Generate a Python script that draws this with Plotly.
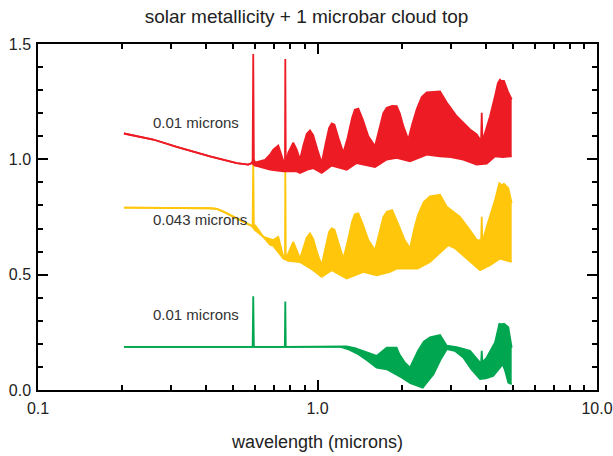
import math
import plotly.graph_objects as go

# ---------------- data ----------------
red_lower_wl = [0.203, 0.2585, 0.3135, 0.4124, 0.5139, 0.5654, 0.5815, 0.5975, 0.614, 0.676, 0.7545,
                0.8424, 0.8658, 0.92, 0.966, 1.035, 1.124, 1.272, 1.381, 1.606, 1.769, 1.920, 2.143,
                2.3, 2.459, 2.744, 3.0, 3.324, 3.712, 4.032, 4.317, 4.6, 4.952]
red_lower = [1.112, 1.086, 1.054, 1.013, 0.984, 0.977, 0.984, 0.972, 0.969, 0.955, 0.948,
             0.948, 0.941, 0.955, 0.962, 0.941, 0.973, 0.955, 0.984, 0.967, 0.999, 1.006, 0.991,
             1.005, 1.020, 1.013, 1.010, 0.999, 0.977, 0.981, 1.013, 1.010, 1.013]
red_upper_wl = [0.203, 0.2585, 0.3135, 0.4124, 0.5139, 0.5654, 0.5815, 0.586, 0.589, 0.592, 0.5975,
                0.614, 0.6491, 0.6761, 0.695, 0.724, 0.7545, 0.762, 0.765, 0.767, 0.770, 0.7861,
                0.8191, 0.8424, 0.8658, 0.89, 0.915, 0.94, 0.965, 1.0, 1.035, 1.07, 1.10, 1.124,
                1.15, 1.19, 1.237, 1.28, 1.33, 1.36, 1.40, 1.45, 1.52, 1.606, 1.66, 1.72, 1.769,
                1.85, 1.920, 1.97, 2.028, 2.113, 2.18, 2.264, 2.36, 2.459, 2.6, 2.744, 2.900, 3.148,
                3.513, 3.712, 3.815, 3.850, 3.869, 3.890, 3.943, 4.143, 4.317, 4.42, 4.498, 4.540,
                4.560, 4.580, 4.649, 4.815, 4.952]
red_upper = [1.112, 1.086, 1.054, 1.013, 0.984, 0.977, 0.984, 0.995, 1.457, 1.000, 0.986,
             0.990, 0.998, 1.020, 1.042, 1.060, 0.998, 0.977, 0.980, 1.435, 0.980, 1.029,
             1.072, 1.042, 0.999, 1.060, 1.110, 1.125, 1.105, 1.040, 0.984, 1.070, 1.135, 1.156,
             1.150, 1.090, 1.028, 1.090, 1.180, 1.215, 1.220, 1.175, 1.100, 1.057, 1.130, 1.200, 1.224,
             1.232, 1.231, 1.200, 1.144, 1.086, 1.150, 1.217, 1.270, 1.290, 1.292, 1.294, 1.246, 1.187,
             1.130, 1.108, 1.086, 1.090, 1.202, 1.095, 1.100, 1.187, 1.275, 1.330, 1.345, 1.340,
             1.246, 1.340, 1.340, 1.290, 1.260]

yel_lower_wl = [0.203, 0.30, 0.4124, 0.4369, 0.4603, 0.5139, 0.558, 0.5815, 0.5975, 0.640, 0.676,
                0.695, 0.7545, 0.7861, 0.8658, 0.966, 1.035, 1.124, 1.272, 1.458, 1.628, 1.817,
                1.920, 2.28, 2.526, 2.75, 2.938, 3.1, 3.324, 3.6, 3.815, 4.143, 4.498, 4.952]
yel_lower = [0.791, 0.790, 0.788, 0.785, 0.773, 0.744, 0.723, 0.711, 0.693, 0.664, 0.630,
             0.625, 0.570, 0.560, 0.555, 0.519, 0.490, 0.519, 0.483, 0.512, 0.497, 0.512,
             0.526, 0.526, 0.555, 0.595, 0.628, 0.615, 0.584, 0.545, 0.519, 0.541, 0.570, 0.555]
yel_upper_wl = [0.203, 0.30, 0.4124, 0.4369, 0.4603, 0.5139, 0.558, 0.5815, 0.586, 0.589, 0.592,
                0.5975, 0.640, 0.695, 0.724, 0.7545, 0.762, 0.765, 0.767, 0.770, 0.7861, 0.8191,
                0.8658, 0.89, 0.915, 0.94, 0.965, 1.0, 1.035, 1.07, 1.10, 1.124, 1.15, 1.19, 1.237,
                1.28, 1.33, 1.36, 1.40, 1.45, 1.52, 1.606, 1.66, 1.72, 1.769, 1.85, 1.96, 2.05,
                2.143, 2.22, 2.29, 2.4, 2.526, 2.744, 2.900, 3.235, 3.513, 3.712, 3.850, 3.869,
                3.890, 4.032, 4.317, 4.473, 4.540, 4.560, 4.580, 4.649, 4.815, 4.952]
yel_upper = [0.791, 0.790, 0.788, 0.785, 0.773, 0.744, 0.723, 0.711, 0.710, 1.020, 0.700,
             0.715, 0.664, 0.650, 0.664, 0.577, 0.570, 0.570, 0.990, 0.570, 0.592, 0.642,
             0.570, 0.615, 0.660, 0.679, 0.655, 0.590, 0.541, 0.620, 0.685, 0.701, 0.695, 0.635, 0.570,
             0.640, 0.730, 0.762, 0.766, 0.720, 0.650, 0.606, 0.680, 0.750, 0.773, 0.780, 0.708, 0.650,
             0.614, 0.700, 0.759, 0.815, 0.839, 0.846, 0.795, 0.751, 0.693, 0.650, 0.650, 0.751,
             0.640, 0.708, 0.824, 0.897, 0.890, 0.810, 0.890, 0.894, 0.875, 0.810]

grn_lower_wl = [0.203, 1.21, 1.3, 1.4, 1.5, 1.628, 1.769, 1.92, 2.0, 2.15, 2.3, 2.38, 2.45, 2.6,
                2.75, 2.9, 3.1, 3.324, 3.55, 3.815, 4.0, 4.25, 4.45, 4.6, 4.7, 4.815, 4.952]
grn_lower = [0.187, 0.187, 0.175, 0.155, 0.130, 0.097, 0.090, 0.068, 0.054, 0.030, 0.017, 0.010,
             0.030, 0.068, 0.130, 0.177, 0.170, 0.141, 0.090, 0.047, 0.050, 0.061, 0.090, 0.112,
             0.080, 0.032, 0.025]
grn_upper_wl = [0.203, 0.586, 0.589, 0.592, 0.764, 0.767, 0.770, 1.21, 1.272, 1.36, 1.458, 1.628,
                1.769, 1.92, 1.96, 2.05, 2.143, 2.22, 2.29, 2.4, 2.526, 2.744, 2.9, 3.148, 3.513,
                3.815, 3.850, 3.869, 3.890, 4.032, 4.317, 4.473, 4.540, 4.560, 4.580, 4.649, 4.815,
                4.952]
grn_upper = [0.187, 0.187, 0.406, 0.187, 0.187, 0.384, 0.187, 0.187, 0.189, 0.182, 0.170, 0.148,
             0.184, 0.184, 0.156, 0.120, 0.097, 0.140, 0.170, 0.210, 0.228, 0.238, 0.192, 0.186, 0.170,
             0.119, 0.120, 0.170, 0.120, 0.141, 0.206, 0.287, 0.285, 0.200, 0.285, 0.287, 0.272,
             0.184]

labels = ["0.01 microns", "0.043 microns", "0.01 microns"]
label_wl = [0.253, 0.253, 0.253]
label_y = [1.159, 0.741, 0.327]

x_tickvals = [0.1, 1, 10]
x_ticktext = ["0.1", "1.0", "10.0"]
x_minor = [0.2, 0.3, 0.4, 0.5, 0.6, 0.7, 0.8, 0.9, 2, 3, 4, 5, 6, 7, 8, 9]
y_tickvals = [0.0, 0.5, 1.0, 1.5]
y_ticktext = ["0.0", "0.5", "1.0", "1.5"]
y_minor = [0.1, 0.2, 0.3, 0.4, 0.6, 0.7, 0.8, 0.9, 1.1, 1.2, 1.3, 1.4]

RED, YEL, GRN = "#ED1C24", "#FFC60B", "#00A650"
FONT = "Liberation Sans, Arial, Helvetica, sans-serif"
TXT = "#222222"

fig = go.Figure()
for lw, lo, uw, up, col in [
    (grn_lower_wl, grn_lower, grn_upper_wl, grn_upper, GRN),
    (yel_lower_wl, yel_lower, yel_upper_wl, yel_upper, YEL),
    (red_lower_wl, red_lower, red_upper_wl, red_upper, RED),
]:
    fig.add_trace(go.Scatter(x=lw, y=lo, mode="lines", line=dict(color=col, width=1.8),
                             showlegend=False, hoverinfo="skip"))
    fig.add_trace(go.Scatter(x=uw, y=up, mode="lines", line=dict(color=col, width=1.8),
                             fill="tonexty", fillcolor=col, showlegend=False, hoverinfo="skip"))

# invisible trace so that the minor-tick overlay axes are drawn
fig.add_trace(go.Scatter(x=[1], y=[0.5], xaxis="x2", yaxis="y2", mode="markers",
                         marker=dict(opacity=0), showlegend=False, hoverinfo="skip"))

for t, xw, yv in zip(labels, label_wl, label_y):
    fig.add_annotation(x=math.log10(xw), y=yv, xref="x", yref="y", text=t, showarrow=False,
                       xanchor="left", yanchor="middle",
                       font=dict(family=FONT, size=15, color="#333333"))

common = dict(showline=True, linecolor="black", linewidth=1.5, mirror="ticks",
              ticks="inside", tickwidth=1.5, tickcolor="black",
              showgrid=False, zeroline=False, automargin=False,
              tickfont=dict(family=FONT, size=16, color=TXT))

fig.update_layout(
    width=613, height=456,
    margin=dict(l=38, r=16, t=44, b=66),
    paper_bgcolor="white", plot_bgcolor="white",
    title=dict(text="solar metallicity + 1 microbar cloud top", x=0.5, xref="container",
               y=1 - 16 / 456, yref="container", yanchor="middle",
               font=dict(family=FONT, size=19, color=TXT)),
    xaxis=dict(type="log", range=[-1, 1], tickmode="array", tickvals=x_tickvals,
               ticktext=x_ticktext, ticklen=10, ticklabelstandoff=3,
               title=dict(text="wavelength (microns)", font=dict(family=FONT, size=18, color=TXT),
                          standoff=19),
               **common),
    yaxis=dict(range=[0, 1.5], tickmode="array", tickvals=y_tickvals, ticktext=y_ticktext,
               ticklen=10, ticklabelstandoff=2, **common),
    xaxis2=dict(type="log", range=[-1, 1], overlaying="x", anchor="y", tickmode="array",
                tickvals=x_minor, ticklen=5, showticklabels=False, **common),
    yaxis2=dict(range=[0, 1.5], overlaying="y", anchor="x", tickmode="array",
                tickvals=y_minor, ticklen=5, showticklabels=False, **common),
)

fig.write_html("out.html", config={"displayModeBar": False},
               post_script="document.body.style.margin='0';document.body.style.overflow='hidden';")
